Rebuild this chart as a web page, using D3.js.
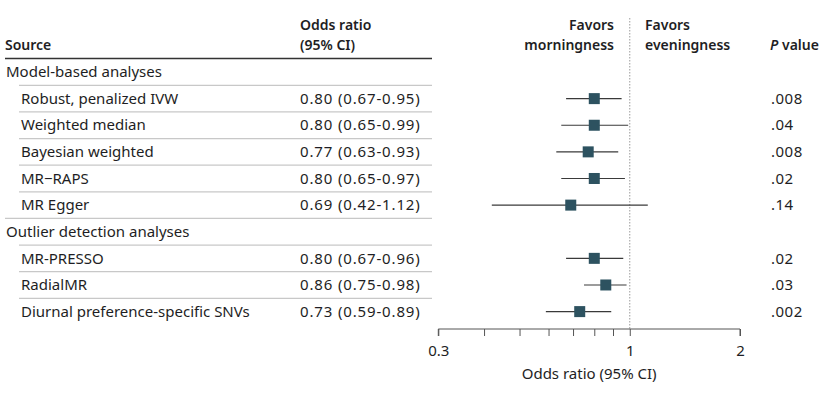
<!DOCTYPE html>
<html>
<head>
<meta charset="utf-8">
<script src="https://cdn.jsdelivr.net/npm/d3@7.9.0/dist/d3.min.js"></script>
<style>
  body { margin: 0; background: #fff; }
  svg { font-family: "Noto Sans", "Open Sans", sans-serif; }
</style>
</head>
<body>
<div id="chart"></div>
<script>
// rows of the table, group headers have no estimate
const labels = ['Model-based analyses', 'Robust, penalized IVW', 'Weighted median', 'Bayesian weighted',
  'MR\u2212RAPS', 'MR Egger', 'Outlier detection analyses', 'MR-PRESSO', 'RadialMR',
  'Diurnal preference-specific SNVs'];
const isGroup = [true, false, false, false, false, false, true, false, false, false];
const estimate = [null, 0.80, 0.80, 0.77, 0.80, 0.69, null, 0.80, 0.86, 0.73];
const lower = [null, 0.67, 0.65, 0.63, 0.65, 0.42, null, 0.67, 0.75, 0.59];
const upper = [null, 0.95, 0.99, 0.93, 0.97, 1.12, null, 0.96, 0.98, 0.89];
const pValues = ['', '.008', '.04', '.008', '.02', '.14', '', '.02', '.03', '.002'];
const majorTicks = [0.3, 1, 2];
const minorTicks = [0.4, 0.5, 0.6, 0.7, 0.8, 0.9];

const width = 837, height = 393;
const textColor = '#1e1e24';
const fs = 15;

const svg = d3.select('#chart').append('svg')
  .attr('width', width).attr('height', height);

const x = d3.scaleLog().domain([0.3, 2]).range([438.3, 740]);
const y = d3.scalePoint().domain(d3.range(labels.length)).range([72, 311.6]);
const step = y.step();

// header
const head = svg.append('g').attr('fill', textColor).attr('font-weight', 600).attr('font-size', 14);
head.append('text').attr('x', 5).attr('y', 50).text('Source');
head.append('text').attr('x', 300).attr('y', 30).text('Odds ratio');
head.append('text').attr('x', 300).attr('y', 50).text('(95% CI)');
head.append('text').attr('x', 614).attr('y', 30).attr('text-anchor', 'end').text('Favors');
head.append('text').attr('x', 614).attr('y', 50).attr('text-anchor', 'end').text('morningness');
head.append('text').attr('x', 645).attr('y', 30).text('Favors');
head.append('text').attr('x', 645).attr('y', 50).text('eveningness');
const pv = head.append('text').attr('x', 770).attr('y', 50);
pv.append('tspan').attr('font-style', 'italic').text('P');
pv.append('tspan').text(' value');

svg.append('line').attr('x1', 5).attr('x2', 432).attr('y1', 58.5).attr('y2', 58.5)
  .attr('stroke', '#333').attr('stroke-width', 1.3);

// row separators
labels.forEach((d, i) => {
  if (i === labels.length - 1) return;
  const yy = y(i) + step / 2;
  svg.append('line')
    .attr('x1', isGroup[i + 1] ? 5 : 19).attr('x2', 432)
    .attr('y1', yy).attr('y2', yy)
    .attr('stroke', '#c8c8c8').attr('stroke-width', 1.2);
});

// table text
const rows = svg.append('g').attr('font-size', fs).attr('fill', textColor);
rows.selectAll('text.lab').data(labels).join('text')
  .attr('class', 'lab')
  .attr('x', (d, i) => isGroup[i] ? 6 : 21)
  .attr('y', (d, i) => y(i)).attr('dy', '0.35em')
  .text(d => d);

rows.selectAll('text.or').data(estimate).join('text')
  .attr('class', 'or')
  .attr('x', 300).attr('y', (d, i) => y(i)).attr('dy', '0.35em')
  .attr('letter-spacing', 0.85)
  .text((d, i) => d == null ? '' : `${d.toFixed(2)} (${lower[i].toFixed(2)}-${upper[i].toFixed(2)})`);

rows.selectAll('text.pv').data(pValues).join('text')
  .attr('class', 'pv')
  .attr('x', 771).attr('y', (d, i) => y(i)).attr('dy', '0.35em')
  .attr('letter-spacing', 0.5)
  .text(d => d);

// reference line at 1
svg.append('line').attr('x1', x(1)).attr('x2', x(1)).attr('y1', 18).attr('y2', 329)
  .attr('stroke', '#9a9a9a').attr('stroke-dasharray', '1.5,1.5');

// axis
const axisY = 329;
const axis = d3.axisBottom(x)
  .tickValues(majorTicks.concat(minorTicks))
  .tickSize(7)
  .tickFormat(d => majorTicks.includes(d) ? d3.format('~g')(d) : '');
const ag = svg.append('g').attr('transform', `translate(0,${axisY})`).call(axis);
ag.attr('font-family', null);
ag.select('.domain').attr('stroke', '#555').attr('d', `M${x(0.3)},7V0H${x(2)}V7`);
ag.selectAll('.tick line').attr('stroke', '#555');
ag.selectAll('.tick text').attr('font-size', fs).attr('fill', textColor).attr('dy', '1.15em');

svg.append('text').attr('x', (x(0.3) + x(2)) / 2).attr('y', 379)
  .attr('text-anchor', 'middle').attr('font-size', fs).attr('fill', textColor)
  .text('Odds ratio (95% CI)');

// CI lines and markers
const idx = d3.range(labels.length).filter(i => !isGroup[i]);
svg.append('g').selectAll('line').data(idx).join('line')
  .attr('x1', i => x(lower[i])).attr('x2', i => x(upper[i]))
  .attr('y1', i => y(i)).attr('y2', i => y(i))
  .attr('stroke', '#3a3a3a').attr('stroke-width', 1.2);

const sz = 11;
svg.append('g').selectAll('rect').data(idx).join('rect')
  .attr('x', i => x(estimate[i]) - sz / 2).attr('y', i => y(i) - sz / 2)
  .attr('width', sz).attr('height', sz)
  .attr('fill', '#2d5260');
</script>
</body>
</html>
